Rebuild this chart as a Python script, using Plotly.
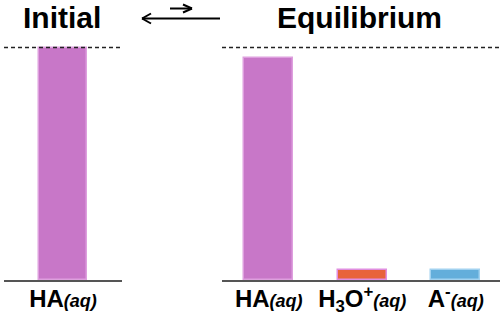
import plotly.graph_objects as go

# ---- data ----
initial_species = ["HA"]
initial_values = [1.0]
equil_species = ["HA", "H3O+", "A-"]
equil_values = [0.955, 0.045, 0.045]

initial_labels = ["<b>HA<span style='font-size:18px'><i>(aq)</i></span></b>"]
equil_labels = [
    "<b>HA<span style='font-size:18px'><i>(aq)</i></span></b>",
    "<b>H<sub>3</sub>O<sup>+</sup><span style='font-size:18px'><i>(aq)</i></span></b>",
    "<b>A<sup>-</sup><span style='font-size:18px'><i>(aq)</i></span></b>",
]
titles = ["Initial", "Equilibrium"]

fill_colors = {"HA": "#C877C8", "H3O+": "#E8633B", "A-": "#63AEDB"}
line_colors = {"HA": "#DE9FDE", "H3O+": "#E08EE0", "A-": "#A2D2F0"}

FONT = "Liberation Sans, Arial, Helvetica, sans-serif"
W, H = 500, 324
BASE = 280  # pixel of baseline
DOM1 = [4 / W, 122 / W]
DOM2 = [222 / W, 1.0]

fig = go.Figure()
fig.add_trace(go.Bar(
    x=initial_species, y=initial_values, xaxis="x", yaxis="y",
    width=0.415,
    marker=dict(color=[fill_colors[s] for s in initial_species],
                line=dict(color=[line_colors[s] for s in initial_species], width=1.5)),
    showlegend=False, hoverinfo="skip",
))
fig.add_trace(go.Bar(
    x=equil_species, y=equil_values, xaxis="x2", yaxis="y2",
    width=0.52,
    marker=dict(color=[fill_colors[s] for s in equil_species],
                line=dict(color=[line_colors[s] for s in equil_species], width=1.5)),
    showlegend=False, hoverinfo="skip",
))

yr = [0, BASE / (BASE - 47.5)]
axis_common = dict(showline=True, linecolor="#555555", linewidth=2, ticks="",
                   showgrid=False, zeroline=False, fixedrange=True,
                   ticklabelstandoff=-4,
                   tickfont=dict(family=FONT, size=24, color="black"))
fig.update_layout(
    width=W, height=H,
    margin=dict(l=0, r=0, t=0, b=H - BASE),
    paper_bgcolor="white", plot_bgcolor="white",
    bargap=0,
    xaxis=dict(domain=DOM1, range=[-0.5, 0.5], type="category",
               tickvals=initial_species, ticktext=initial_labels, **axis_common),
    xaxis2=dict(domain=DOM2, range=[-0.5, 2.474], type="category",
                tickvals=equil_species, ticktext=equil_labels, **axis_common),
    yaxis=dict(domain=[0, 1], range=yr, visible=False, fixedrange=True),
    yaxis2=dict(domain=[0, 1], range=yr, visible=False, fixedrange=True, anchor="x2"),
)

def py(p):
    return (BASE - p) / BASE

# dashed reference lines at full initial amount
for dom, yref in [(DOM1, "y"), (DOM2, "y2")]:
    fig.add_shape(type="line", xref="paper", yref=yref, x0=dom[0], x1=dom[1],
                  y0=initial_values[0], y1=initial_values[0],
                  line=dict(color="#222222", width=1.3, dash="4px,3px"))

# titles
fig.add_annotation(text="<b>" + titles[0] + "</b>", xref="paper", yref="paper",
                   x=62 / W, y=py(17), xanchor="center", yanchor="middle",
                   showarrow=False, font=dict(family=FONT, size=30, color="black"))
fig.add_annotation(text="<b>" + titles[1] + "</b>", xref="paper", yref="paper",
                   x=359 / W, y=py(17), xanchor="center", yanchor="middle",
                   showarrow=False, font=dict(family=FONT, size=30, color="black"))

# equilibrium arrows
def seg(x0, y0, x1, y1):
    fig.add_shape(type="line", xref="paper", yref="paper",
                  x0=x0 / W, y0=py(y0), x1=x1 / W, y1=py(y1),
                  line=dict(color="black", width=2))

seg(142, 18.5, 220, 18.5)
seg(142, 18.5, 151, 13.5)
seg(142, 18.5, 151, 23.5)
seg(170, 8.5, 192, 8.5)
seg(192, 8.5, 183, 4.5)
seg(192, 8.5, 183, 12.5)

fig.write_html("out.html")
